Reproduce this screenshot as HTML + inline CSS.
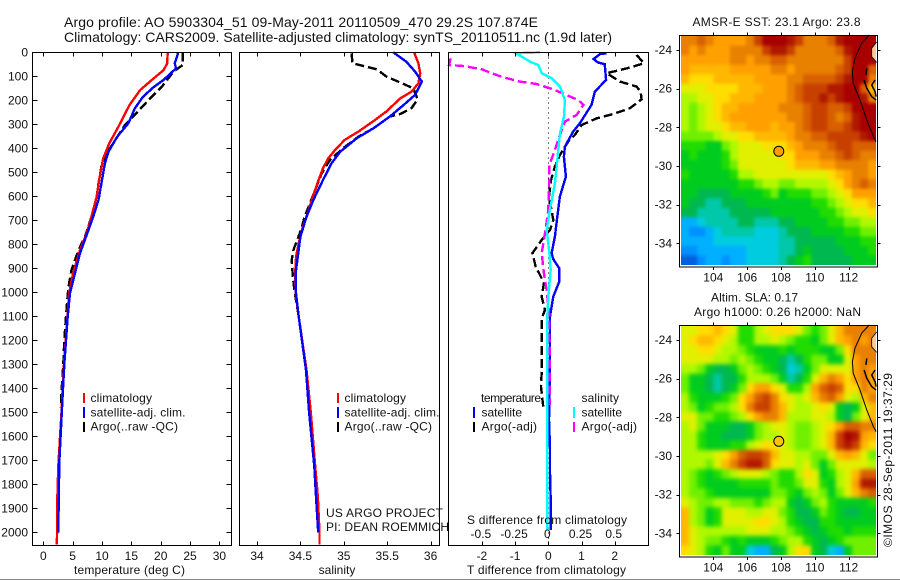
<!DOCTYPE html>
<html><head><meta charset="utf-8"><title>Argo profile</title>
<style>
html,body{margin:0;padding:0;background:#fff;}
svg{display:block;font-family:"Liberation Sans",sans-serif;font-size:12px;fill:#000;}
text{fill:#111;}
</style></head>
<body>
<svg id="chart" width="900" height="580" viewBox="0 0 900 580" xmlns="http://www.w3.org/2000/svg">
<defs>
<filter id="smooth-sst" filterUnits="userSpaceOnUse" x="650" y="0" width="250" height="300" color-interpolation-filters="sRGB"><feGaussianBlur stdDeviation="1.6"/></filter>
<filter id="smooth-sla" filterUnits="userSpaceOnUse" x="650" y="290" width="250" height="290" color-interpolation-filters="sRGB"><feGaussianBlur stdDeviation="2.2"/></filter>
<clipPath id="clip-sst"><rect x="681" y="36" width="195" height="229"/></clipPath>
<clipPath id="clip-sla"><rect x="681" y="326" width="195" height="229"/></clipPath>
</defs>
<rect x="0" y="0" width="900" height="580" fill="#fff"/>
<line x1="0" y1="579.5" x2="900" y2="579.5" stroke="#888"/>
<text x="64" y="27" font-size="14" textLength="474" lengthAdjust="spacing">Argo profile: AO 5903304_51 09-May-2011 20110509_470 29.2S 107.874E</text>
<text x="64" y="42" font-size="14" textLength="548" lengthAdjust="spacing">Climatology: CARS2009. Satellite-adjusted climatology: synTS_20110511.nc (1.9d later)</text>
<g id="layer"></g>
<g>
<rect x="83" y="393" width="2" height="10" fill="#f00"/>
<rect x="83" y="407" width="2" height="11" fill="#00f"/>
<rect x="83" y="422" width="2" height="10" fill="#000"/>
<text x="90.5" y="402" textLength="61.5">climatology</text>
<text x="90.5" y="416.5" textLength="95">satellite-adj. clim.</text>
<text x="90.5" y="430.5" textLength="87.5">Argo(..raw -QC)</text>
</g>
<g>
<rect x="337" y="393" width="2" height="10" fill="#f00"/>
<rect x="337" y="407" width="2" height="11" fill="#00f"/>
<rect x="337" y="422" width="2" height="10" fill="#000"/>
<text x="344.5" y="402" textLength="61.5">climatology</text>
<text x="344.5" y="416.5" textLength="95">satellite-adj. clim.</text>
<text x="344.5" y="430.5" textLength="87.5">Argo(..raw -QC)</text>
</g>
<text x="326" y="517" textLength="117">US ARGO PROJECT</text>
<text x="326" y="531" textLength="123">PI: DEAN ROEMMICH</text>
<g>
<text x="481" y="402" textLength="60">temperature</text>
<text x="581.5" y="402" textLength="37.5">salinity</text>
<rect x="473" y="407" width="2" height="11" fill="#00f"/>
<rect x="473" y="422" width="2" height="10" fill="#000"/>
<rect x="573" y="407" width="2" height="11" fill="#0ff"/>
<rect x="573" y="422" width="2" height="10" fill="#f0f"/>
<text x="481.5" y="416.5" textLength="40.5">satellite</text>
<text x="481.5" y="430.5" textLength="55.5">Argo(-adj)</text>
<text x="581.5" y="416.5" textLength="40.5">satellite</text>
<text x="581.5" y="430.5" textLength="55.5">Argo(-adj)</text>
</g>
<text x="467" y="524" textLength="160" lengthAdjust="spacing">S difference from climatology</text>
<text x="74" y="574" textLength="111" lengthAdjust="spacing">temperature (deg C)</text>
<text x="337" y="574" text-anchor="middle">salinity</text>
<text x="467" y="574" textLength="159" lengthAdjust="spacing">T difference from climatology</text>
<text x="692.5" y="26" textLength="168" lengthAdjust="spacing">AMSR-E SST: 23.1  Argo: 23.8</text>
<text x="711" y="301.5" textLength="87" lengthAdjust="spacing">Altim. SLA: 0.17</text>
<text x="694" y="316" textLength="167" lengthAdjust="spacing">Argo h1000: 0.26 h2000: NaN</text>
<text transform="translate(892,547) rotate(-90)" textLength="174" lengthAdjust="spacing">©IMOS 28-Sep-2011 19:37:29</text>
</svg>
<script>
// ---------- profile data ----------
const pressureTicks = [0,100,200,300,400,500,600,700,800,900,1000,1100,1200,1300,1400,1500,1600,1700,1800,1900,2000];
const tempTicks = [0,5,10,15,20,25,30];
const salTicks = [34,34.5,35,35.5,36];
const salTickLabels = ['34','34.5','35','35.5','36'];
const tDiffTicks = [-2,-1,0,1,2];
const sDiffTicks = [-0.5,-0.25,0,0.25,0.5];
const sDiffTickLabels = ['-0.5','-0.25','0','0.25','0.5'];

const climTempP = [0,46,74,115,157,219,310,379,442,532,601,685,754,824,920,1004,1324,1500,1725,1850,2000,2050];
const climTemp = [21.2,21.1,20.5,18.5,16.5,14.7,12.8,11.25,10.2,9.5,9.1,8.2,7.4,6.25,5.1,4.4,3.45,3.1,2.55,2.4,2.35,2.3];
const satTempP = [0,46,67,90,115,146,185,233,296,351,414,462,546,615,685,761,837,920,1004,1100,1200,1300,1400,1500,1725,1850,1950,2000];
const satTemp = [23.0,22.4,22.6,21.6,20.5,18.75,17,15.6,14.5,12.6,11.1,10.5,9.9,9.4,8.5,7.4,6.25,5.4,4.55,4.15,3.87,3.58,3.36,3.15,2.7,2.67,2.55,2.55];
const argoTempP = [0,53,80,143,192,268,303,379,421,476,546,601,685,768,824,907,962,1011,1100,1200,1300,1400,1480];
const argoTemp = [23.75,23.75,22.2,20.2,18.2,15.3,13.9,11.9,10.8,9.9,9.4,9.1,8.2,7.1,6,4.8,4.4,4.15,3.87,3.58,3.4,3.13,3.0];

const climSalP = [0,46,87,129,164,192,247,282,330,365,407,442,483,532,594,664,726,796,851,921,1004,1101,1324,1500,1725,1850,2000,2050];
const climSal = [35.81,35.86,35.88,35.86,35.78,35.65,35.49,35.36,35.17,35.01,34.9,34.82,34.76,34.71,34.65,34.59,34.53,34.48,34.45,34.44,34.445,34.48,34.57,34.62,34.67,34.7,34.72,34.72];
const satSalP = [0,39,80,122,178,219,268,317,358,414,462,532,615,685,768,823,921,990,1101,1324,1500,1725,1850,2000];
const satSal = [35.57,35.72,35.82,35.9,35.82,35.69,35.53,35.34,35.15,34.96,34.86,34.76,34.65,34.57,34.5,34.48,34.445,34.445,34.48,34.565,34.6,34.66,34.68,34.705];
const argoSalP = [4,46,57,71,101,126,150,196,233,257,268,317,351,400,449,504,574,629,685,747,823,865,921,990,1101,1324,1480];
const argoSal = [35.09,35.1,35.225,35.38,35.49,35.65,35.8,35.85,35.78,35.65,35.53,35.34,35.17,34.99,34.84,34.745,34.67,34.61,34.55,34.5,34.42,34.4,34.41,34.43,34.48,34.57,34.61];

const argoTDiffP = [11,46,67,87,122,143,164,196,233,257,275,303,344,372,428,476,532,601,699,740,782,837,893,928,962,1018,1074,1108,1200,1331,1394,1478];
const argoTDiff = [2.66,2.88,2.36,1.76,2.16,2.66,2.78,2.81,2.46,1.96,1.46,1.0,0.8,0.6,0.35,0.2,0.08,0.02,0.15,0.05,-0.2,-0.48,-0.38,-0.25,-0.13,-0.2,-0.1,-0.2,-0.2,-0.2,-0.22,-0.15];
const satTDiffP = [4,7,28,43,49,115,164,219,296,330,393,435,518,601,685,768,837,862,900,955,1018,1101,1300,1532,1650,1750,1851,1990];
const satTDiff = [1.76,1.56,1.36,1.5,1.7,1.74,1.4,1.3,0.95,0.75,0.5,0.47,0.53,0.35,0.27,0.2,0.1,0.15,0.33,0.33,0.15,0.05,0.05,0.02,0.05,0.05,0.07,0.07];
const satSDiffP = [0,4,39,53,87,108,143,199,268,337,435,546,657,740,837,907,1018,1108,1500,1990];
const satSDiff = [-0.063,-0.243,-0.138,-0.075,-0.05,0.025,0.088,0.125,0.118,0.088,0.07,0.05,0.012,-0.012,0.008,0.018,0,-0.008,-0.008,-0.008];
const argoSDiffP = [25,53,57,71,87,104,122,132,157,199,219,261,289,351,407,469,560,657,754,837,921,990,1101,1470];
const argoSDiff = [-0.735,-0.748,-0.64,-0.5,-0.427,-0.339,-0.213,-0.088,0.05,0.226,0.264,0.213,0.125,0.083,0.05,0.008,0.005,0,-0.025,-0.05,-0.033,-0.013,0.008,0.013];

// ---------- map data ----------
const lonTicks = [104,106,108,110,112];
const latTicks = [-24,-26,-28,-30,-32,-34];
const argoLon = 107.874;
const argoLat = -29.24;
const coastLonOuter = [113.22,112.77,112.37,112.22,112.27,112.67,113.07,113.46,113.62];
const coastLatOuter = [-23.22,-23.65,-24.43,-25.12,-25.72,-26.59,-27.62,-28.48,-28.74];
const landLon = [113.66,113.36,113.36,113.66];
const landLat = [-23.58,-23.91,-24.35,-24.64];
const islandLon = [113.07,113.02];
const islandLat = [-24.95,-25.29];
const bayLonA = [112.91,113.07,113.36,113.62];
const bayLatA = [-25.55,-25.98,-26.41,-26.59];
const bayLonB = [113.56,113.36,113.56,113.62];
const bayLatB = [-25.55,-25.81,-26.16,-26.41];
const sstGrid = [
[14,14,15,14,13,13,13,13,14,16,18,18,18,17,16,14,14,14,15,17,18,18,18,18],
[14,13,14,13,13,13,14,14,14,14,16,17,17,16,14,14,14,14,14,15,17,18,18,18],
[13,13,13,13,13,13,14,14,13,14,14,15,15,14,14,14,14,14,14,14,16,18,18,18],
[13,12,12,12,12,12,13,13,13,13,13,14,14,13,14,14,14,14,14,15,16,18,18,15],
[12,11,11,11,12,12,12,12,12,13,13,13,13,14,14,15,15,15,15,16,17,18,18,14],
[10,10,10,11,11,11,11,12,12,12,13,13,13,14,15,16,16,16,17,17,18,18,15,12],
[9,9,10,10,11,11,12,12,12,13,13,13,13,14,15,16,16,17,16,17,18,18,17,14],
[9,8,9,10,11,12,12,13,13,13,13,13,14,14,14,15,16,16,15,15,16,18,18,18],
[9,8,9,10,11,12,13,13,13,13,13,13,13,14,14,15,16,16,15,14,15,17,18,18],
[9,8,9,10,10,11,12,12,13,13,13,12,13,13,14,15,16,16,15,15,16,17,18,18],
[8,8,8,8,9,10,10,11,11,12,12,12,12,13,14,14,15,15,16,16,16,16,17,18],
[7,7,7,6,6,8,9,10,10,10,11,11,11,12,13,14,14,14,15,16,16,15,15,15],
[6,7,6,6,6,7,9,10,10,10,10,10,11,11,13,13,13,14,14,15,16,15,14,14],
[6,6,6,6,6,7,8,10,10,10,10,10,10,11,12,12,12,13,13,14,14,14,14,13],
[7,6,6,6,6,6,7,9,9,10,10,10,10,10,10,10,10,10,11,12,13,14,14,13],
[6,6,6,6,6,6,6,7,7,8,9,9,8,8,9,9,9,9,10,11,13,14,15,14],
[6,6,5,5,5,5,6,6,6,6,7,8,6,7,7,7,8,8,9,10,11,13,13,13],
[6,5,5,4,4,5,5,5,6,6,6,6,6,6,6,6,7,7,8,9,10,11,11,12],
[5,5,4,4,4,4,5,5,5,5,5,6,6,6,6,6,6,7,7,8,9,10,10,11],
[2,2,3,4,4,4,4,5,5,4,4,4,5,5,6,6,6,6,7,7,8,8,9,9],
[2,1,1,2,3,4,4,4,4,3,3,3,4,5,5,5,6,6,6,6,7,7,8,8],
[2,2,2,2,3,3,3,3,3,3,3,3,4,4,5,5,5,5,5,6,6,6,7,7],
[1,1,2,2,2,2,2,2,3,3,3,3,4,4,5,6,5,5,5,5,6,6,6,7],
[0,0,1,2,2,1,2,2,3,3,3,3,4,5,6,7,5,5,5,5,5,6,6,6]
];
const slaGrid = [
[10,10,11,11,12,11,10,7,7,9,10,11,11,11,10,8,7,8,10,12,14,14,14,14],
[10,11,12,12,11,10,9,7,7,9,9,10,9,8,7,7,6,8,10,12,13,14,13,14],
[10,10,11,11,10,9,9,8,7,6,6,6,7,6,7,7,7,6,6,8,11,14,14,14],
[10,10,10,10,9,9,8,9,8,7,6,6,5,4,5,7,8,8,6,6,10,13,14,14],
[9,9,8,6,5,5,6,8,9,8,7,6,5,3,4,6,8,10,10,10,10,13,14,13],
[8,6,6,5,4,5,5,7,9,9,9,8,6,4,5,7,10,12,14,13,11,13,14,13],
[8,6,6,5,4,5,6,8,11,13,13,11,10,7,7,9,13,15,16,15,11,11,14,13],
[9,7,6,6,6,7,8,11,13,15,16,14,11,10,9,10,12,14,15,13,10,9,12,14],
[9,8,6,7,8,8,9,11,14,16,16,14,12,10,9,9,10,11,10,6,5,6,10,12],
[10,10,8,8,7,7,8,9,11,13,14,14,12,9,9,9,10,10,9,6,5,8,10,12],
[9,10,8,6,6,6,5,5,6,8,9,10,10,9,8,8,9,10,11,13,15,15,14,14],
[9,9,7,6,6,5,5,5,6,8,9,9,10,9,8,8,9,10,12,16,18,17,13,12],
[9,9,7,6,6,6,7,7,9,10,11,11,10,9,8,8,9,10,12,16,17,16,12,11],
[9,9,9,9,10,11,13,15,16,16,15,12,10,10,9,9,8,8,10,12,13,12,10,8],
[9,9,9,8,10,12,14,16,17,17,15,11,10,10,9,10,8,6,8,10,10,10,10,9],
[9,8,7,6,7,8,9,10,10,10,9,8,7,7,9,11,10,6,7,9,10,12,15,15],
[9,8,7,6,6,6,6,7,7,7,7,8,7,7,8,10,10,7,6,9,10,13,17,17],
[9,8,8,7,6,6,6,6,6,6,6,8,8,7,6,8,9,8,6,8,10,12,14,15],
[10,9,8,8,9,9,8,8,8,7,8,9,9,6,5,6,8,9,7,6,6,6,6,7],
[12,9,8,6,7,10,10,10,9,9,10,10,8,7,5,5,6,8,7,6,5,5,6,6],
[12,9,8,6,7,10,10,10,10,11,11,10,9,7,6,5,5,7,7,6,6,6,6,6],
[12,10,9,9,9,9,9,9,10,10,10,9,9,8,7,6,5,6,7,7,6,7,7,7],
[12,10,9,8,8,7,6,7,6,6,6,7,8,9,9,7,6,5,6,7,8,8,8,8],
[11,10,9,7,6,8,6,6,3,2,2,5,6,9,11,11,6,5,3,2,6,8,8,8]
];
const levelColors = ['#0060e0','#0090ff','#00b0ff','#00cce0','#00c8a8','#00b850','#00cc20','#20dc00','#70f000','#b0f800','#e0f000','#ffdd00','#ffb800','#ffa000','#e88000','#d86000','#c84000','#b01800','#a80000'];

// ---------- helpers ----------
const NS = 'http://www.w3.org/2000/svg';
const layer = document.getElementById('layer');
function mk(tag, attrs, parent){
  const e = document.createElementNS(NS, tag);
  for (const k in attrs) e.setAttribute(k, attrs[k]);
  (parent || layer).appendChild(e);
  return e;
}
const yP = p => 52.3 + 0.24 * p;
const xT = v => 43.3 + 5.87 * v;
const xS = v => 257 + 86.8 * (v - 34);
const xTd = v => 548.3 + 33.2 * v;
const xSd = v => 548.3 + 132.8 * v;

function series(name, xs, ps, xf, color, dash, width){
  const pts = xs.map((v, i) => xf(v).toFixed(1) + ',' + yP(ps[i]).toFixed(1)).join(' ');
  const el = mk('polyline', {points: pts, fill: 'none', stroke: color, 'stroke-width': width, 'shape-rendering': 'crispEdges'});
  if (dash) el.setAttribute('stroke-dasharray', dash);
  
  
}
function tick(x1, y1, x2, y2){
  const el = mk('line', {x1: x1, y1: y1, x2: x2, y2: y2, stroke: '#000', 'stroke-width': 1, 'shape-rendering': 'crispEdges'});
  
  
}
function label(txt, x, y, anchor){
  const el = mk('text', {x: x, y: y, 'text-anchor': anchor});
  el.textContent = txt;
  
  
}
function frame(name, x, y, w, h){
  const el = mk('rect', {x: x, y: y, width: w, height: h, fill: 'none', stroke: '#000', 'stroke-width': 1, 'shape-rendering': 'crispEdges'});
  
  
}
const TOP = 52.5, BOT = 545.5;
function xTicks(vals, xf, labels){
  vals.forEach((v, i) => {
    const x = Math.round(xf(v)) + 0.5;
    tick(x, TOP, x, TOP + 4);
    tick(x, BOT, x, BOT - 4);
    label(labels ? labels[i] : String(v), xf(v), 560, 'middle');
  });
}

// ---------- temperature panel ----------
series('argo-temperature-line', argoTemp, argoTempP, xT, '#000', '9 4', 2.4);
series('climatology-temperature-line', climTemp, climTempP, xT, '#f00', '', 2.4);
series('satellite-temperature-line', satTemp, satTempP, xT, '#00f', '', 2.4);
frame('temperature-panel-frame', 32.5, TOP, 199, BOT - TOP);
xTicks(tempTicks, xT);
pressureTicks.forEach(p => {
  const y = Math.round(yP(p)) + 0.5;
  tick(32.5, y, 37.5, y);
  tick(231.5, y, 226.5, y);
  label(String(p), 28, yP(p) + 4, 'end');
});

// ---------- salinity panel ----------
series('argo-salinity-line', argoSal, argoSalP, xS, '#000', '9 4', 2.4);
series('climatology-salinity-line', climSal, climSalP, xS, '#f00', '', 2.4);
series('satellite-salinity-line', satSal, satSalP, xS, '#00f', '', 2.4);
frame('salinity-panel-frame', 239.5, TOP, 200, BOT - TOP);
xTicks(salTicks, xS, salTickLabels);

// ---------- difference panel ----------
const zeroLine = mk('line', {x1: xTd(0), y1: TOP, x2: xTd(0), y2: BOT, stroke: '#000', 'stroke-width': 1, 'stroke-dasharray': '1 4', 'shape-rendering': 'crispEdges'});


series('argo-t-difference-line', argoTDiff, argoTDiffP, xTd, '#000', '9 4', 2.4);
series('satellite-t-difference-line', satTDiff, satTDiffP, xTd, '#00f', '', 2.4);
series('argo-s-difference-line', argoSDiff, argoSDiffP, xSd, '#f0f', '9 4', 2.4);
series('satellite-s-difference-line', satSDiff, satSDiffP, xSd, '#0ff', '', 2.4);
frame('difference-panel-frame', 448.5, TOP, 200, BOT - TOP);
xTicks(tDiffTicks, xTd);
sDiffTicks.forEach((v, i) => label(sDiffTickLabels[i], xSd(v) - 1, 538, 'middle'));

// ---------- maps ----------
function drawMap(key, grid, top, bottom, markerFill){
  const xLon = lon => 713.3 + 16.92 * (lon - 104);
  const yLat = lat => (top + 15) - 19.33 * (lat + 24);
  const lon0 = 102.09, dLon = 0.481, lat0 = -23.28, dLat = 0.4935;
  const clipGroup = mk('g', {'clip-path': 'url(#clip-' + key + ')'});
  
  
  const blurGroup = mk('g', {filter: 'url(#smooth-' + key + ')'}, clipGroup);
  
  
  const lastR = grid.length - 1;
  grid.forEach((row, r) => row.forEach((lev, c) => {
    let x1 = xLon(lon0 + c * dLon), x2 = xLon(lon0 + (c + 1) * dLon);
    let y1 = yLat(lat0 - r * dLat), y2 = yLat(lat0 - (r + 1) * dLat);
    if (c === 0) x1 -= 12;
    if (c === row.length - 1) x2 += 12;
    if (r === 0) y1 -= 12;
    if (r === lastR) y2 += 12;
    const cell = mk('rect', {x: x1.toFixed(2), y: y1.toFixed(2), width: (x2 - x1 + 0.4).toFixed(2), height: (y2 - y1 + 0.4).toFixed(2), fill: levelColors[lev]}, blurGroup);
    
    
  }));
  const toPts = (lons, lats) => lons.map((lon, i) => xLon(lon).toFixed(1) + ',' + yLat(lats[i]).toFixed(1)).join(' ');
  const land = mk('polygon', {points: toPts(landLon, landLat), fill: '#ffc890', stroke: 'none'}, clipGroup);
  
  
  const landEdge = mk('polyline', {points: toPts(landLon, landLat), fill: 'none', stroke: '#000', 'stroke-width': 0.8});
  
  
  const outer = mk('polyline', {points: toPts(coastLonOuter, coastLatOuter), fill: 'none', stroke: '#000', 'stroke-width': 1});
  
  
  [[islandLon, islandLat], [bayLonA, bayLatA], [bayLonB, bayLatB]].forEach(pair => {
    const coast = mk('polyline', {points: toPts(pair[0], pair[1]), fill: 'none', stroke: '#000', 'stroke-width': 1.5});
    
    
  });
  const dot = mk('circle', {cx: xLon(argoLon).toFixed(1), cy: yLat(argoLat).toFixed(1), r: 5, fill: markerFill, stroke: '#000', 'stroke-width': 1});
  
  
  frame(key + '-map-frame', 679.5, top + 0.5, 198, bottom - top);
  lonTicks.forEach(lon => {
    const x = Math.round(xLon(lon)) + 0.5;
    tick(x, top + 0.5, x, top - 2.5);
    tick(x, bottom + 0.5, x, bottom + 3.5);
    label(String(lon), xLon(lon), bottom + 15, 'middle');
  });
  latTicks.forEach(lat => {
    const y = Math.round(yLat(lat)) + 0.5;
    tick(679.5, y, 676.5, y);
    tick(877.5, y, 880.5, y);
    label(String(lat), 672, yLat(lat) + 4, 'end');
  });
}
drawMap('sst', sstGrid, 35, 266.5, '#ffa000');
drawMap('sla', slaGrid, 325, 556.5, '#ffc400');
</script>
</body></html>
